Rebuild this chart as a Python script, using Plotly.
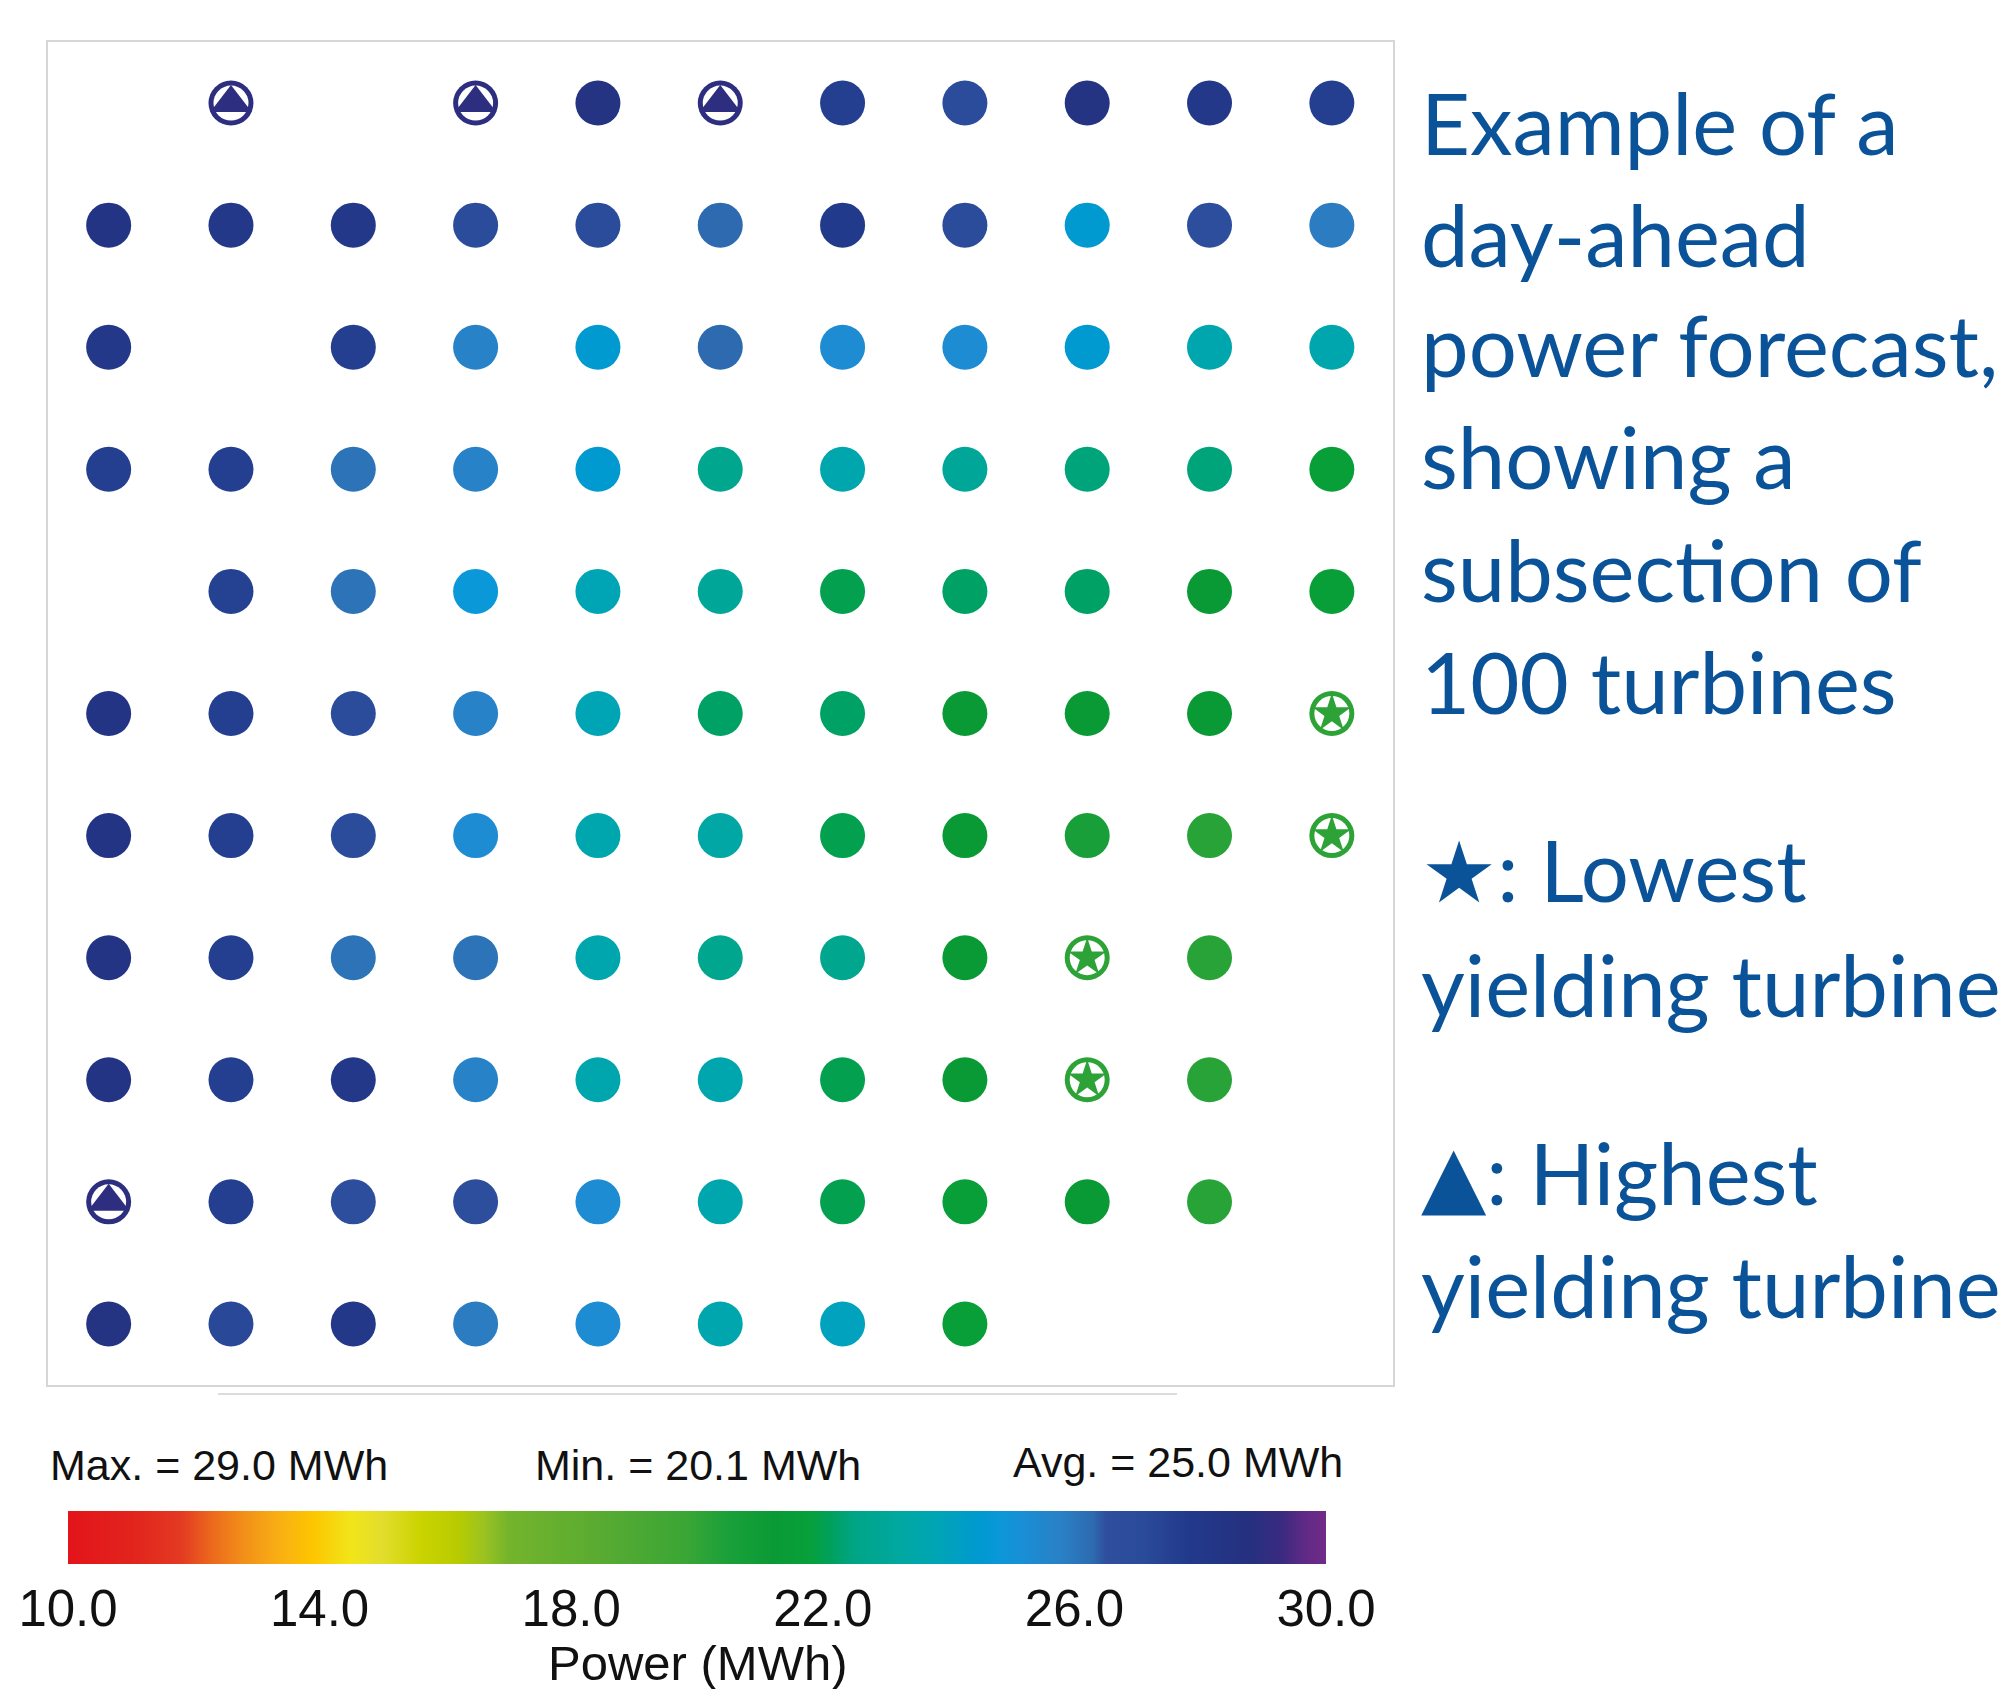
import plotly.graph_objects as go

# ---------------- data ----------------
# 11 x 11 turbine grid, row 0 = top row, None = no turbine shown
power_grid = [
    [None, 29.0, None, 29.0, 28.5, 29.0, 27.6, 27.0, 28.5, 28.0, 27.6],
    [28.4, 28.0, 28.0, 27.0, 27.0, 26.3, 27.8, 27.0, 24.5, 26.7, 25.9],
    [28.0, None, 27.6, 25.7, 24.5, 26.3, 25.3, 25.3, 24.5, 23.6, 23.6],
    [27.6, 27.6, 26.1, 25.7, 24.5, 22.7, 23.6, 23.0, 22.4, 22.4, 21.7],
    [None, 27.5, 26.1, 24.8, 23.8, 23.0, 22.0, 22.2, 22.2, 21.2, 21.7],
    [28.4, 27.6, 27.0, 25.7, 23.8, 22.2, 22.2, 21.2, 21.2, 21.2, 20.1],
    [28.4, 27.6, 27.0, 25.3, 23.6, 23.3, 22.0, 21.2, 20.6, 20.2, 20.1],
    [28.4, 27.6, 26.1, 26.1, 23.6, 22.7, 22.7, 21.2, 20.1, 20.2, None],
    [28.4, 27.6, 28.0, 25.7, 23.6, 23.6, 22.0, 21.2, 20.1, 20.2, None],
    [29.0, 27.6, 26.7, 26.7, 25.3, 23.6, 22.0, 21.7, 21.2, 20.2, None],
    [28.5, 27.2, 28.0, 25.9, 25.3, 23.6, 24.0, 21.7, None, None, None],
]
# (row, col) of highest-yielding (triangle) and lowest-yielding (star) turbines
highest_cells = [(0, 1), (0, 3), (0, 5), (9, 0)]
lowest_cells = [(5, 10), (6, 10), (7, 8), (8, 8)]

stat_labels = ["Max. = 29.0 MWh", "Min. = 20.1 MWh", "Avg. = 25.0 MWh"]
cbar_tickvals = [10, 14, 18, 22, 26, 30]
cbar_ticktext = ["10.0", "14.0", "18.0", "22.0", "26.0", "30.0"]
cbar_title = "Power (MWh)"

side_lines = [
    "Example of a", "day-ahead", "power forecast,", "showing a",
    "subsection of", "100 turbines",
    "\u2605: Lowest", "yielding turbine",
    "\u25B2: Highest", "yielding turbine",
]

# colour scale (value, colour)
scale_stops = [
    (10.0, "#e3141b"), (11.0, "#e2231d"), (11.8, "#e33a22"), (12.3, "#ec6a1c"),
    (12.8, "#f29019"), (13.4, "#f9b112"), (13.9, "#fdc600"), (14.5, "#f1e51a"),
    (15.0, "#e2dd2c"), (15.6, "#cbd300"), (16.2, "#b8cb00"), (16.6, "#9cc320"),
    (17.0, "#74b42c"), (18.4, "#5aab31"), (19.8, "#3ba635"), (20.5, "#1aa03a"),
    (21.2, "#0a9a35"), (21.8, "#07a03a"), (22.1, "#00a05a"), (22.5, "#00a585"),
    (23.2, "#00a8a0"), (23.8, "#00a5b5"), (24.5, "#0099d0"), (24.8, "#0a98d8"),
    (25.2, "#1a8ed5"), (25.8, "#2a80c5"), (26.3, "#2d6ab0"), (26.5, "#2f4f9e"),
    (27.1, "#2a4a9a"), (27.8, "#223a8c"), (28.8, "#25307e"), (29.3, "#3a2a80"),
    (29.6, "#5a2a85"), (30.0, "#732a88"),
]
CMIN, CMAX = 10.0, 30.0
colorscale = [[(v - CMIN) / (CMAX - CMIN), c] for v, c in scale_stops]

# ---------------- build traces ----------------
xs, ys, zs = [], [], []
for r, row in enumerate(power_grid):
    for c, val in enumerate(row):
        if val is not None:
            xs.append(c)
            ys.append(r)
            zs.append(val)

W, H = 2015, 1689
fig = go.Figure()

fig.add_trace(go.Scatter(
    x=xs, y=ys, mode="markers",
    marker=dict(
        size=45, color=zs, colorscale=colorscale, cmin=CMIN, cmax=CMAX,
        line=dict(width=0),
        colorbar=dict(
            orientation="h", x=68 / W, xanchor="left", y=(H - 1511) / H, yanchor="top",
            len=1258, lenmode="pixels", thickness=53, thicknessmode="pixels",
            xpad=0, ypad=0, outlinewidth=0, ticks="",
            tickvals=cbar_tickvals, ticktext=cbar_ticktext,
            tickfont=dict(family="Liberation Sans, Arial", size=51, color="#111111"),
        ),
    ),
    showlegend=False, hoverinfo="skip",
))

special = [(highest_cells, "triangle-up", 36), (lowest_cells, "star", 29)]
for cells, sym, sz in special:
    sx = [c for r, c in cells]
    sy = [r for r, c in cells]
    sz_vals = [power_grid[r][c] for r, c in cells]
    fig.add_trace(go.Scatter(
        x=sx, y=sy, mode="markers",
        marker=dict(size=35, color="white", line=dict(width=0)),
        showlegend=False, hoverinfo="skip"))
    fig.add_trace(go.Scatter(
        x=sx, y=sy, mode="markers",
        marker=dict(size=sz, symbol=sym, color=sz_vals, colorscale=colorscale,
                    cmin=CMIN, cmax=CMAX, showscale=False, line=dict(width=0)),
        showlegend=False, hoverinfo="skip"))

frame_col = "#d6d6d6"
fig.update_xaxes(range=[-0.5, 10.5], domain=[47.5 / W, 1393 / W],
                 showgrid=False, zeroline=False, showticklabels=False, ticks="",
                 showline=True, mirror=True, linecolor=frame_col, linewidth=2)
fig.update_yaxes(range=[10.5, -0.5], domain=[(H - 1385) / H, (H - 42) / H],
                 showgrid=False, zeroline=False, showticklabels=False, ticks="",
                 showline=True, mirror=True, linecolor=frame_col, linewidth=2)

# faint second line under the frame
fig.add_shape(type="line", xref="paper", yref="paper",
              x0=218 / W, x1=1177 / W, y0=(H - 1394) / H, y1=(H - 1394) / H,
              line=dict(color="#dcdcdc", width=2))

# colour bar title
fig.add_annotation(text=cbar_title, xref="paper", yref="paper", x=697 / W, y=(H - 1663) / H,
                   xanchor="center", yanchor="middle", showarrow=False,
                   font=dict(family="Liberation Sans, Arial", size=49, color="#111111"))

# statistics above the colour bar
stat_x = [219, 698, 1178]
stat_y = [1465, 1465, 1462]
for t, sx_, sy_ in zip(stat_labels, stat_x, stat_y):
    fig.add_annotation(text=t, xref="paper", yref="paper", x=sx_ / W, y=(H - sy_) / H,
                       xanchor="center", yanchor="middle", showarrow=False,
                       font=dict(family="Liberation Sans, Arial", size=43, color="#111111"))

# side text
line_y = [122, 234, 344, 456, 569, 681, 869, 984, 1172, 1285]
for t, ly in zip(side_lines, line_y):
    fig.add_annotation(text=t, xref="paper", yref="paper", x=1419 / W, y=(H - ly) / H,
                       xanchor="left", yanchor="middle", showarrow=False,
                       font=dict(family="Lato, DejaVu Sans", size=85, color="#0b5399"))

fig.update_layout(width=W, height=H, margin=dict(l=0, r=0, t=0, b=0),
                  paper_bgcolor="white", plot_bgcolor="white")

fig.write_html("out.html", config={"displayModeBar": False},
               post_script="document.body.style.margin='0px';")
